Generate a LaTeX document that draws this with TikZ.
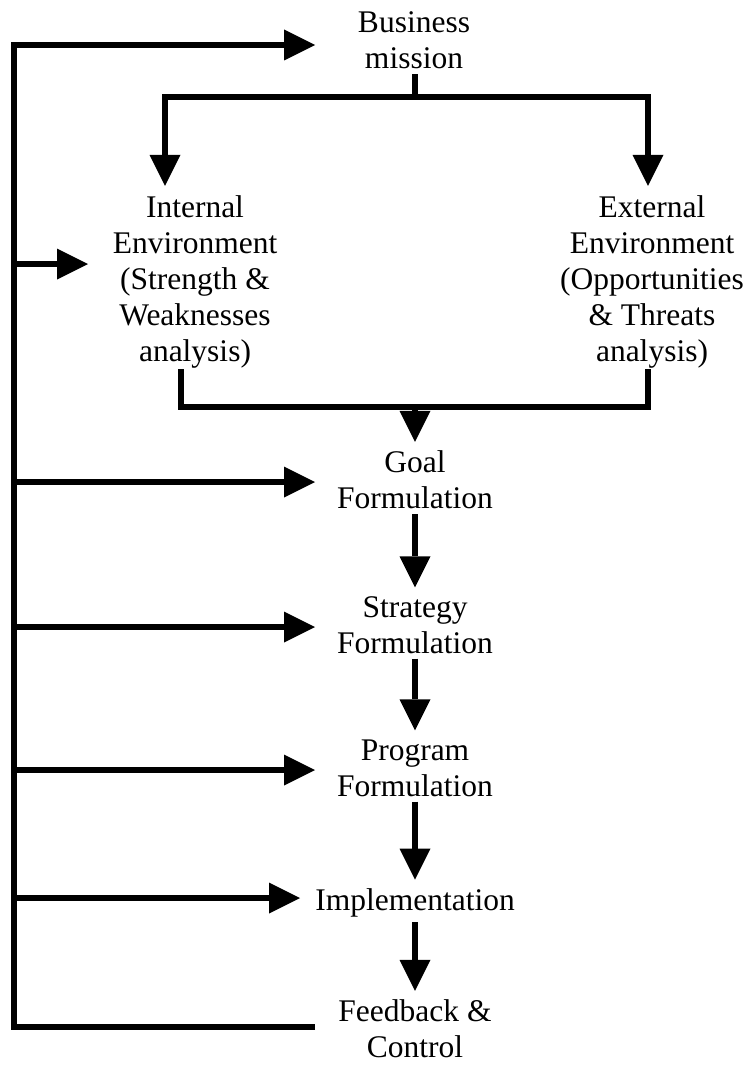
\documentclass[tikz,border=0pt]{standalone}
\usepackage{fontspec}
\setmainfont{Liberation Serif}
\usetikzlibrary{arrows.meta}
\begin{document}
\begin{tikzpicture}[x=1pt,y=-1pt,
  flow/.style={line width=6pt, line join=miter},
  arr/.style={flow, -{Triangle[length=31pt,width=31pt,line width=0pt]}},
  lbl/.style={font=\fontsize{31.5}{35.8}\selectfont, align=center, inner sep=0pt}]
\useasboundingbox (0,0) rectangle (748,1065);

% stages of the planning process
\node[lbl] (bm) at (414,40)  {Business\\mission};
\node[lbl] (ie) at (195,282) {Internal\\Environment\\(Strength \&\\Weaknesses\\analysis)};
\node[lbl] (ee) at (652,282) {External\\Environment\\(Opportunities\\\& Threats\\analysis)};
\node[lbl] (gf) at (415,480) {Goal\\Formulation};
\node[lbl] (sf) at (415,625) {Strategy\\Formulation};
\node[lbl] (pf) at (415,768) {Program\\Formulation};
\node[lbl] (im) at (415,903) {Implementation};
\node[lbl] (fc) at (415,1029) {Feedback \&\\Control};

% feedback spine on the left
\coordinate (spTop) at (14,45);
\coordinate (spBot) at (14,1027);
\coordinate (fcOut) at (315,1027);
\coordinate (bmIn)  at (315,45);
\coordinate (ieIn)  at (88,264);
\coordinate (gfIn)  at (315,482);
\coordinate (sfIn)  at (315,627);
\coordinate (pfIn)  at (315,770);
\coordinate (imIn)  at (300,898);

\draw[arr] (fcOut) -- (spBot) -- (spTop) -- (bmIn);
\draw[arr] (spTop |- ieIn) -- (ieIn);
\draw[arr] (spTop |- gfIn) -- (gfIn);
\draw[arr] (spTop |- sfIn) -- (sfIn);
\draw[arr] (spTop |- pfIn) -- (pfIn);
\draw[arr] (spTop |- imIn) -- (imIn);

% mission splits into the two environment analyses
\coordinate (split) at (415,97);
\draw[flow] (split |- 0,74) -- (split);
\draw[arr] (split) -| ([yshift=10pt]ie.north -| 165,0);
\draw[arr] (split) -| ([yshift=10pt]ee.north -| 648,0);

% both analyses join into goal formulation
\coordinate (join) at (415,407);
\draw[flow] (181,369) |- (join) -| (648,369);
\draw[arr] (join) -- ([yshift=9pt]gf.north -| join);

% main sequence
\draw[arr] ([yshift=-5pt]gf.south) -- ([yshift=9pt]sf.north);
\draw[arr] ([yshift=-5pt]sf.south) -- ([yshift=9pt]pf.north);
\draw[arr] ([yshift=-5pt]pf.south) -- ([yshift=9pt]im.north);
\draw[arr] ([yshift=-5pt]im.south) -- ([yshift=9pt]fc.north);
\end{tikzpicture}
\end{document}
